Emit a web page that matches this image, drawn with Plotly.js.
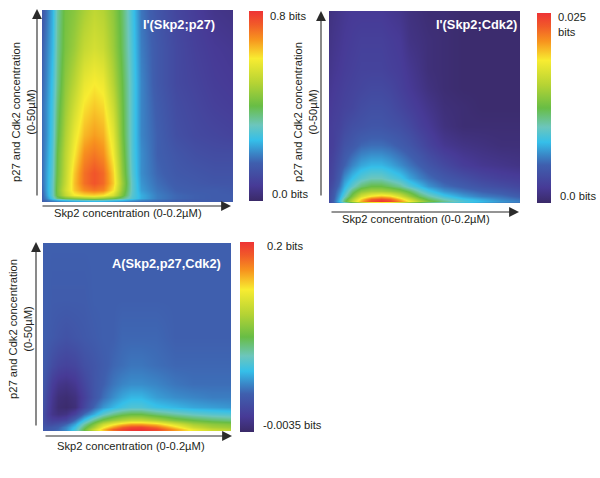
<!DOCTYPE html>
<html><head><meta charset="utf-8">
<script src="https://cdn.plot.ly/plotly-3.0.1.min.js"></script>
<style>html,body{margin:0;padding:0;background:#fff}#c{width:600px;height:478px}</style>
</head><body><div id="c"></div>
<script>
// Axis positions, as percent of the 0-0.2 uM and 0-50 uM ranges
const xPctA = [0,2,5,8,12,17,22,27,32,37,42,47,52,60,70,80,90,100];
const yPctA = [0,1,2,3.5,6,10,15,25,35,50,62,80,100];
const yPctB = [0,1,2,3.5,6,9,13,20,30,40,50,60,70,85,100];
const yPctC = [0,1,2,3.5,6,9,13,18,25,35,50,70,100];

// Heights as percent of each panel's colour scale (rows run bottom to top)
const skp2p27 = [
 [20,20,20,21,22,23,23,24,24,23,22,21,20,20,20,19,19,19],
 [20,22,27,30,33,36,38,39,38,35,32,28,25,22,20,19,19,19],
 [20,25,35,46,52,55,58,60,57,52,45,36,30,24,21,20,19,19],
 [20,27,38,52,64,74,77,78,76,68,53,37,30,24,21,20,19,19],
 [21,28,38,53,67,79,86,89,87,76,56,38,28,23,20,19,19,18],
 [22,28,38,52,65,80,90,94,91,79,58,38,27,22,19,18,17,17],
 [22,28,37,51,64,79,90,94,91,78,56,37,26,21,18,17,16,16],
 [22,27,36,50,63,75,86,89,86,74,54,36,26,20,17,15,14,14],
 [22,26,35,48,61,72,81,84,82,71,52,36,25,20,15,13,12,11],
 [22,26,34,46,58,67,76,79,77,66,51,36,25,19,14,12,10,9],
 [21,25,33,44,56,63,72,75,73,62,50,36,25,18,13,11,9,8],
 [20,24,31,43,53,58,65,68,66,58,48,35,24,18,13,10,8,7],
 [18,22,30,42,52,55,60,64,62,56,47,34,23,17,12,9,6,5]
];
const skp2cdk2 = [
 [14,18,26,34,40,46,50,52,51,48,44,40,37,34,32,28,24,22],
 [14,20,32,46,64,82,96,100,97,86,74,62,53,44,36,31,27,24],
 [14,19,30,44,60,78,92,96,92,80,68,56,48,40,33,29,25,22],
 [14,18,28,38,53,68,76,80,77,68,58,48,42,34,28,24,22,19],
 [13,17,25,33,46,56,60,60,58,54,48,40,34,27,23,20,18,15],
 [12,15,22,30,38,46,50,50,47,43,37,32,27,22,19,16,14,12],
 [11,13,19,26,32,37,40,40,37,34,29,25,22,18,15,12,10,9],
 [10,12,16,20,25,29,31,31,29,26,23,20,17,13,9,7,6,5],
 [9,10,13,16,18,21,22,22,21,19,17,14,11,7,5,4,3,3],
 [9,10,11,13,15,16,17,17,16,15,13,10,8,4,2,2,2,2],
 [8,9,10,11,12,14,15,15,14,12,10,8,6,3,2,1,1,1],
 [7,8,9,10,11,12,13,13,12,10,8,6,4,2,1,1,1,1],
 [6,7,8,9,10,11,11,11,10,9,7,5,3,2,1,1,1,1],
 [5,6,7,8,9,10,10,10,9,8,5,4,3,2,1,1,1,1],
 [4,5,6,7,8,8,8,8,7,6,4,3,2,2,1,1,1,1]
];
const threeWay = [
 [19,19,20,22,26,36,50,64,78,88,94,98,100,94,84,74,68,66],
 [18,18,19,21,26,35,50,66,80,92,97,100,100,97,84,72,65,62],
 [17,17,18,20,25,33,47,60,74,84,92,96,97,91,78,66,60,58],
 [16,14,14,16,21,29,42,54,66,74,80,84,84,80,69,60,56,54],
 [15,12,10,10,12,22,33,44,52,58,62,65,65,61,54,50,47,45],
 [15,10,6,4,5,11,22,30,38,44,48,50,50,46,42,39,37,36],
 [16,11,6,2,1,3,12,21,27,31,34,36,36,33,31,29,28,27],
 [17,12,7,3,2,4,10,17,22,26,29,31,31,28,26,25,24,24],
 [18,14,9,6,5,7,12,17,20,23,25,26,26,25,23,22,22,22],
 [19,17,14,12,11,12,15,17,19,21,22,23,23,22,21,21,21,21],
 [20,19,18,17,16,17,18,19,20,20,21,21,21,21,20,20,20,20],
 [20,20,19,19,19,19,19,20,20,20,20,20,20,20,20,20,20,20],
 [20,20,20,20,20,20,20,20,20,20,20,20,20,20,20,20,20,20]
];

// Colour scale ends, in bits
const scaleP27 = [0, 0.8];
const scaleCdk2 = [0, 0.025];
const scaleThree = [-0.0035, 0.2];

const rainbow = [
 [0,'#3a2a68'],[0.08,'#473a96'],[0.2,'#3f5fae'],[0.25,'#3a85c6'],[0.32,'#35bfe9'],
 [0.4,'#6cc6bc'],[0.5,'#68bd45'],[0.62,'#b5d334'],[0.75,'#f8ec31'],[0.85,'#f7941e'],
 [0.93,'#f15a29'],[1,'#ee3335']
];

const W = 600, H = 478;
const fx = p => p / W, fy = p => 1 - p / H;
const toBits = (rows, s) => rows.map(r => r.map(v => s[0] + (s[1] - s[0]) * v / 100));

function panel(i, zPct, yPct, s, box, bar) {
  const sfx = i === 1 ? '' : String(i);
  return {
    trace: {
      type: 'heatmap', xaxis: 'x' + sfx, yaxis: 'y' + sfx,
      x: xPctA.map(v => v * 0.2 / 100), y: yPct.map(v => v * 50 / 100),
      z: toBits(zPct, s), zmin: s[0], zmax: s[1], zsmooth: 'best',
      colorscale: rainbow, hoverinfo: 'skip',
      colorbar: {
        x: fx(bar[0]), xanchor: 'left', xref: 'paper', thickness: bar[1] - bar[0], thicknessmode: 'pixels',
        y: fy(bar[3]), yanchor: 'bottom', yref: 'paper', len: (bar[3] - bar[2]) / H, lenmode: 'fraction',
        outlinewidth: 0, borderwidth: 0, xpad: 0, ypad: 0, ticks: '', showticklabels: false
      }
    },
    axes: {
      ['xaxis' + sfx]: {domain: [fx(box[0]), fx(box[1])], range: [0, 0.2], visible: false, anchor: 'y' + sfx},
      ['yaxis' + sfx]: {domain: [fy(box[3]), fy(box[2])], range: [0, 50], visible: false, anchor: 'x' + sfx}
    }
  };
}

const panels = [
  panel(1, skp2p27, yPctA, scaleP27, [42, 233, 10, 202], [249, 263, 11, 201]),
  panel(2, skp2cdk2, yPctB, scaleCdk2, [329, 520, 11, 203], [537, 551, 13, 203]),
  panel(3, threeWay, yPctC, scaleThree, [43, 231, 243, 431], [240, 254, 242, 432])
];

const FONT = '"Liberation Sans", Arial, sans-serif';
const txt = (t, x, y, o = {}) => ({
  text: t, x: fx(x), y: fy(y), xref: 'paper', yref: 'paper', showarrow: false,
  xanchor: o.a || 'center', yanchor: 'middle', textangle: o.r || 0, align: o.a || 'center',
  font: {family: FONT, size: o.s || 11.2, color: o.c || '#231f20', weight: o.w || 400}
});
const arrow = (x0, y0, x1, y1) => ({
  text: '', x: fx(x1), y: fy(y1), xref: 'paper', yref: 'paper',
  ax: fx(x0), ay: fy(y0), axref: 'paper', ayref: 'paper',
  showarrow: true, arrowhead: 2, arrowsize: 1.8, arrowwidth: 1.1, arrowcolor: '#2b2b2b'
});

const YL = 'p27 and Cdk2 concentration<br>(0-50µM)';
const XL = 'Skp2 concentration (0-0.2µM)';
const annotations = [
  txt(YL, 24, 112, {r: -90}), txt(XL, 128, 213),
  txt(YL, 306, 112, {r: -90}), txt(XL, 416, 219),
  txt(YL, 20, 329, {r: -90}), txt(XL, 131, 446),
  txt("I'(Skp2;p27)", 179, 24, {s: 12.8, w: 700, c: '#fff'}),
  txt("I'(Skp2;Cdk2)", 476, 24, {s: 12.8, w: 700, c: '#fff'}),
  txt('A(Skp2,p27,Cdk2)', 166, 263, {s: 12.8, w: 700, c: '#fff'}),
  txt('0.8 bits', 268, 16, {a: 'left'}), txt('0.0 bits', 270, 194, {a: 'left'}),
  txt('0.025<br>bits', 556, 24, {a: 'left'}), txt('0.0 bits', 558, 196, {a: 'left'}),
  txt('0.2 bits', 265, 246, {a: 'left'}), txt('-0.0035 bits', 261, 425, {a: 'left'}),
  arrow(37, 197, 37, 9), arrow(41, 206, 231, 206),
  arrow(321, 197, 321, 11), arrow(330, 212, 519, 212),
  arrow(36, 427, 36, 242), arrow(44, 436, 232, 436)
];

const layout = Object.assign({
  width: W, height: H, margin: {l: 0, r: 0, t: 0, b: 0},
  paper_bgcolor: '#fff', plot_bgcolor: '#fff', showlegend: false, annotations
}, ...panels.map(p => p.axes));

Plotly.newPlot('c', panels.map(p => p.trace), layout, {displayModeBar: false, staticPlot: true});
</script></body></html>
